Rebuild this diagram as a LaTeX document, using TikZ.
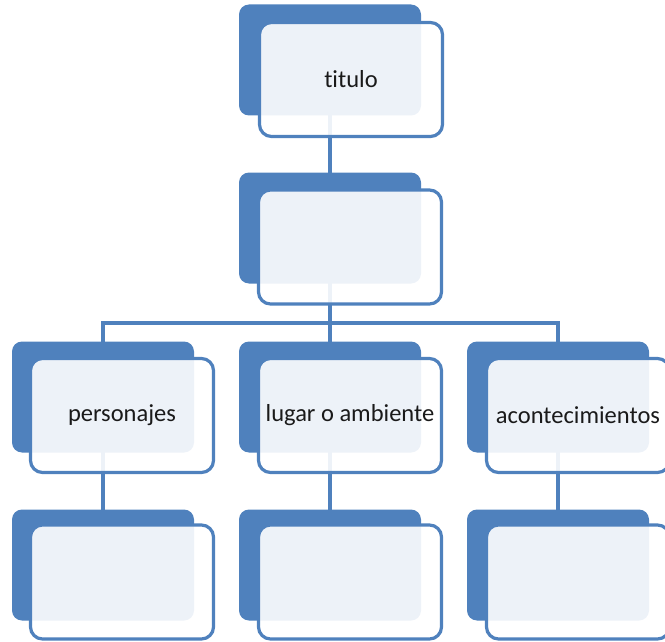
\documentclass[tikz,border=0pt]{standalone}
\usepackage{fontspec}
\setmainfont{Carlito}[Ligatures={NoCommon,NoContextual}]
\usetikzlibrary{backgrounds}
\definecolor{accent}{HTML}{4F81BD}
\definecolor{txt}{HTML}{1A1A1A}
\begin{document}
\begin{tikzpicture}[x=1pt,y=-1pt,
  backbox/.style={fill=accent, draw=none, rounded corners=10pt, minimum width=182pt, minimum height=111pt, inner sep=0pt},
  frontbox/.style={fill=white, fill opacity=0.9, text opacity=1, draw=accent, draw opacity=1, line width=3.2pt, rounded corners=12pt, minimum width=183pt, minimum height=114pt, inner sep=0pt, text=txt, font=\fontsize{24.5}{30}\selectfont},
  conn/.style={draw=accent, line width=3.4pt}]
\useasboundingbox (0,0) rectangle (665,642);
% back boxes
\node[backbox] (b1) at (330,60) {};
\node[backbox] (b2) at (330,228) {};
\node[backbox] (b3) at (103,397) {};
\node[backbox] (b4) at (330,397) {};
\node[backbox] (b5) at (558,397) {};
\node[backbox] (b6) at (103,565) {};
\node[backbox] (b7) at (330,565) {};
\node[backbox] (b8) at (558,565) {};
\coordinate (bus) at (330,323);
% connectors behind
\begin{pgfonlayer}{background}
\draw[conn] (b1.center) -- (b2.center);
\draw[conn] (b2.center) -- (b4.center);
\draw[conn] (b3.center) |- (bus) -| (b5.center);
\draw[conn] (b3.center) -- (b6.center);
\draw[conn] (b4.center) -- (b7.center);
\draw[conn] (b5.center) -- (b8.center);
\end{pgfonlayer}
% front boxes
\node[frontbox] (f1) at (351,79.5) {titulo};
\node[frontbox] (f2) at (350,247) {};
\node[frontbox] (f3) at (122,415.5) {personajes};
\node[frontbox] (f4) at (350,415.5) {lugar o ambiente};
\node[frontbox] (f5) at (578,415.5) {acontecimientos};
\node[frontbox] (f6) at (122,582) {};
\node[frontbox] (f7) at (350,582) {};
\node[frontbox] (f8) at (578,582) {};
\end{tikzpicture}
\end{document}
